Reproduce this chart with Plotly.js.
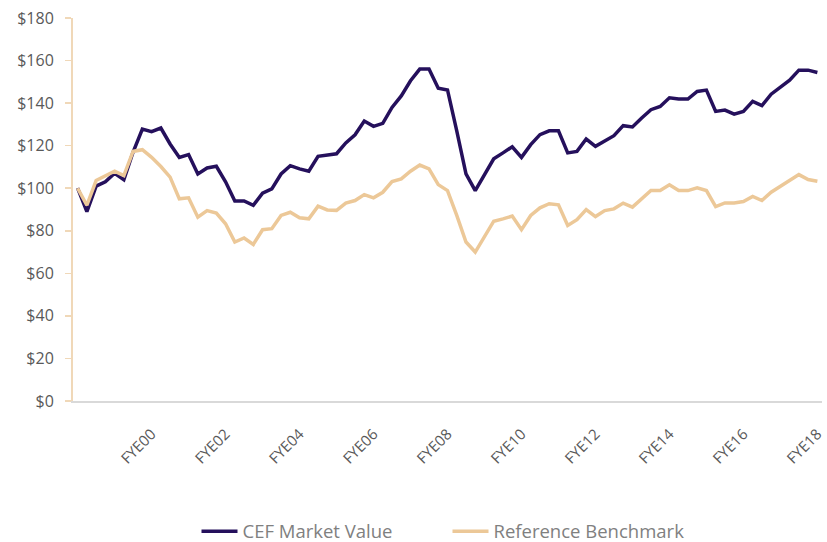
<!DOCTYPE html>
<html>
<head>
<meta charset="utf-8">
<script src="https://cdn.plot.ly/plotly-3.0.1.min.js"></script>
<style>html,body{margin:0;padding:0;background:#fff;}#chart{width:827px;height:542px;}</style>
</head>
<body>
<div id="chart"></div>
<script>
// Quarterly growth of $100, FYE98 .. FYE18 (81 quarters)
const periods = Array.from({length: 81}, (_, i) => i);
const tickPositions = [8, 16, 24, 32, 40, 48, 56, 64, 72, 80];
const tickLabels = ["FYE00", "FYE02", "FYE04", "FYE06", "FYE08", "FYE10", "FYE12", "FYE14", "FYE16", "FYE18"];
const yTicks = [0, 20, 40, 60, 80, 100, 120, 140, 160, 180];
const yTickLabels = ["$0", "$20", "$40", "$60", "$80", "$100", "$120", "$140", "$160", "$180"];

const cefMarketValue = [
  100, 89, 101, 103, 107, 104, 117, 127.8, 126.6, 128.3,
  120.8, 114.5, 115.8, 106.7, 109.5, 110.3, 103, 94, 94, 92,
  97.7, 99.7, 106.7, 110.6, 109.1, 108, 115, 115.6, 116.2, 121.3,
  125.1, 131.6, 129.1, 130.5, 138, 143.4, 150.5, 156, 156, 147,
  146.2, 127, 106.7, 98.9, 106.7, 113.8, 116.6, 119.5, 114.5, 120.5,
  125.2, 127, 127, 116.6, 117.3, 123.1, 119.7, 122.3, 124.7, 129.4,
  128.8, 133, 136.9, 138.4, 142.5, 141.9, 141.9, 145.5, 146.1, 136.1,
  136.7, 134.8, 136.1, 140.8, 138.8, 144.2, 147.3, 150.8, 155.5, 155.5,
  154.4
];
const referenceBenchmark = [
  100, 92, 103.6, 105.6, 108, 105.9, 117.3, 118.1, 114.5, 110.2,
  105.2, 95, 95.5, 86.4, 89.5, 88.3, 83.3, 74.7, 76.6, 73.6,
  80.5, 81, 87.2, 88.7, 86.1, 85.6, 91.6, 89.8, 89.6, 93,
  94.2, 97, 95.5, 98.1, 103.1, 104.4, 108, 110.9, 109.1, 101.7,
  98.9, 87.2, 74.7, 70, 77, 84.5, 85.6, 86.9, 80.5, 87.2,
  90.8, 92.7, 92.2, 82.5, 85.2, 90, 86.7, 89.5, 90.3, 93,
  91.1, 95, 98.9, 98.9, 101.6, 98.9, 98.9, 100.2, 98.9, 91.4,
  93.1, 93.1, 93.75, 96.1, 94.2, 98.1, 100.8, 103.3, 106.4, 104.1,
  103.3
];

const darkColor = "#25105c";
const tanColor = "#ecc898";

const traces = [
  {x: periods, y: cefMarketValue, type: "scatter", mode: "lines", name: "CEF Market Value",
   line: {color: darkColor, width: 3.5}},
  {x: periods, y: referenceBenchmark, type: "scatter", mode: "lines", name: "Reference Benchmark",
   line: {color: tanColor, width: 3.5}}
];

const layout = {
  width: 827, height: 542,
  margin: {l: 73, r: 5, t: 18, b: 141, autoexpand: false},
  paper_bgcolor: "#ffffff", plot_bgcolor: "#ffffff",
  font: {family: "Open Sans, sans-serif", color: "#595959", size: 13},
  showlegend: true,
  legend: {orientation: "h", x: 0.5, xanchor: "center", y: -0.341, yanchor: "middle",
           font: {size: 18.5, color: "#808080"}, itemwidth: 36, traceorder: "normal",
           entrywidth: 200, entrywidthmode: "pixels"},
  xaxis: {range: [-0.5, 80.5], tickmode: "array", tickvals: tickPositions, ticktext: tickLabels,
          tickangle: -45, showgrid: false, zeroline: false, showline: true, linecolor: "#d9d9d9",
          linewidth: 1.5, ticks: "", ticklabelstandoff: 17, automargin: false,
          tickfont: {size: 15, color: "#595959"}, fixedrange: true},
  yaxis: {range: [0, 180], tickmode: "array", tickvals: yTicks, ticktext: yTickLabels,
          showgrid: false, zeroline: false, showline: true, linecolor: "#f0d8b8", linewidth: 2,
          ticks: "outside", ticklen: 6, tickcolor: "#f0d8b8", tickwidth: 1.5, automargin: false,
          ticklabelstandoff: 8, tickfont: {size: 16, color: "#595959"}, fixedrange: true}
};

Plotly.newPlot("chart", traces, layout, {displayModeBar: false, staticPlot: true});
</script>
</body>
</html>
